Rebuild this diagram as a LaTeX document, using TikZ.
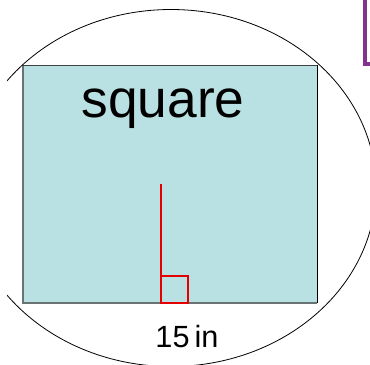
\documentclass[tikz,border=0pt]{standalone}
\usepackage{fontspec}
\setmainfont{Liberation Sans}
\usepackage{xcolor}
\usepackage{tikz}
\usetikzlibrary{positioning}
\definecolor{paleteal}{RGB}{185,224,227}
\definecolor{edgegray}{RGB}{105,115,115}
\definecolor{bracketpurple}{RGB}{128,52,140}

\begin{document}
\begin{tikzpicture}[
  x=0.75pt, y=-0.75pt,
  outline/.style={black, line width=0.6pt},
  sqedge/.style={edgegray, line width=1.3pt},
  heightmark/.style={red!90!black, line width=0.9pt},
  label/.style={inner sep=0pt, anchor=base},
]
  \useasboundingbox (0,0) rectangle (370,364);

  % the square
  \fill[paleteal] (23,65) rectangle (317,303);
  \draw[sqedge] (23,65) -- (23,303) -- (317,303);
  \draw[outline, black!75] (23,65) -- (317,65);
  \draw[outline] (317,65) -- (317,303);

  % circle round it
  \begin{scope}
    \clip (7,0) rectangle (370,364);
    \draw[outline] (171,188) ellipse [x radius=205, y radius=178.5];
  \end{scope}

  \draw[bracketpurple, line width=2.6pt] (365,0) -- (365,64) -- (371,64);

  % height mark
  \draw[heightmark] (161,184) -- (161,303);
  \draw[heightmark] (161,276) rectangle (188,303);

  \node[label, font=\fontsize{40}{42}\selectfont] (name) at (163,117) {square};
  \node[label, font=\fontsize{23}{25}\selectfont] (side) at (187,347) {15\,in};
\end{tikzpicture}
\end{document}
